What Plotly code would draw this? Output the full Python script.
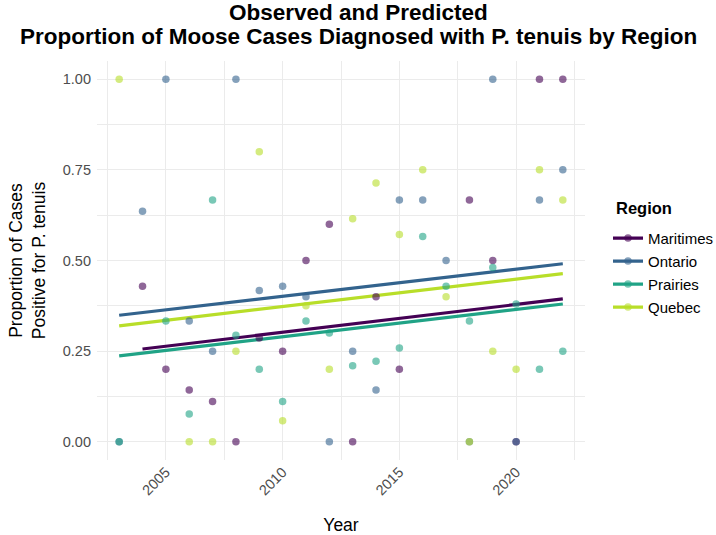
import plotly.graph_objects as go

years = list(range(2003, 2023))
regions = ["Maritimes", "Ontario", "Prairies", "Quebec"]
colors = ["#440154", "#33638D", "#20A386", "#B8DE29"]

maritimes = [None, 0.429, 0.2, 0.143, 0.111, 0, 0.286, 0.25, 0.5, 0.6,
             0, 0.4, 0.2, None, None, 0.667, 0.5, 0, 1.0, 1.0]
ontario = [0, 0.636, 1.0, 0.333, 0.25, 1.0, 0.417, 0.429, 0.4, 0,
           0.25, 0.143, 0.667, 0.667, 0.5, 0, 1.0, 0, 0.667, 0.75]
prairies = [0, None, 0.333, 0.077, 0.667, 0.294, 0.2, 0.111, 0.333, 0.3,
            0.21, 0.222, 0.259, 0.566, 0.429, 0.333, 0.481, 0.38, 0.2, 0.25]
quebec = [1.0, None, None, 0, 0, 0.25, 0.8, 0.058, 0.375, 0.2,
          0.615, 0.714, 0.572, 0.75, 0.4, 0, 0.25, 0.2, 0.75, 0.667]
observed = [maritimes, ontario, prairies, quebec]

pred_start_year = [2004, 2003, 2003, 2003]
pred_end_year = [2022, 2022, 2022, 2022]
pred_start = [0.256, 0.349, 0.237, 0.320]
pred_end = [0.394, 0.491, 0.380, 0.464]

x_ticks = [2005, 2010, 2015, 2020]
x_minor = [2002.5, 2007.5, 2012.5, 2017.5, 2022.5]
y_ticks = [0, 0.25, 0.5, 0.75, 1.0]
y_tick_labels = ["0.00", "0.25", "0.50", "0.75", "1.00"]
y_minor = [0.125, 0.375, 0.625, 0.875]

FONT = "Liberation Sans, Arial, sans-serif"
fig = go.Figure()

for i, r in enumerate(regions):
    fig.add_trace(go.Scatter(
        x=[pred_start_year[i], pred_end_year[i]], y=[pred_start[i], pred_end[i]],
        mode="lines", line=dict(color=colors[i], width=3.2),
        showlegend=False, hoverinfo="skip"))

for i, r in enumerate(regions):
    xs = [y for y, v in zip(years, observed[i]) if v is not None]
    vs = [v for v in observed[i] if v is not None]
    fig.add_trace(go.Scatter(
        x=xs, y=vs, mode="markers",
        marker=dict(color=colors[i], size=7.5, opacity=0.6, line=dict(width=0)),
        showlegend=False, name=r))

for i, r in enumerate(regions):
    fig.add_trace(go.Scatter(
        x=[None], y=[None], mode="lines+markers", name=r,
        line=dict(color=colors[i], width=3.2),
        marker=dict(color=colors[i], size=7.5, opacity=0.6),
        legendgroup=r, showlegend=True))

W, H = 716, 535
L, R, T, B = 97, 131, 61, 74.5
pw, ph = W - L - R, H - T - B


def px(xpix):
    return (xpix - L) / pw


def py(ypix):
    return (H - B - ypix) / ph


grid = "#EBEBEB"
fig.update_layout(
    width=W, height=H,
    margin=dict(l=L, r=R, t=T, b=B, autoexpand=False),
    paper_bgcolor="white", plot_bgcolor="white",
    font=dict(family=FONT, color="#000000"),
    showlegend=True,
    legend=dict(
        font=dict(size=15, family=FONT, color="black"),
        x=px(608), xanchor="left", y=py(222), yanchor="top",
        traceorder="grouped", tracegroupgap=0.5, itemwidth=30,
        bgcolor="rgba(0,0,0,0)"),
    xaxis=dict(
        range=[2002.05, 2022.95], tickmode="array", tickvals=x_ticks,
        ticktext=[str(t) for t in x_ticks], tickangle=-45,
        tickfont=dict(size=14.5, color="#4D4D4D", family=FONT),
        showgrid=True, gridcolor=grid, gridwidth=1.2, zeroline=False,
        showline=False, ticks="", automargin=False,
        minor=dict(tickmode="array", tickvals=x_minor, showgrid=True,
                   gridcolor=grid, gridwidth=0.6),
        title=dict(text="Year", font=dict(size=17.5, family=FONT, color="black"),
                   standoff=23)),
    yaxis=dict(
        range=[-0.05, 1.05], tickmode="array", tickvals=y_ticks,
        ticktext=y_tick_labels, automargin=False,
        tickfont=dict(size=14.5, color="#4D4D4D", family=FONT),
        showgrid=True, gridcolor=grid, gridwidth=1.2, zeroline=False,
        showline=False, ticks="", ticklabelstandoff=5,
        minor=dict(tickmode="array", tickvals=y_minor, showgrid=True,
                   gridcolor=grid, gridwidth=0.6),
        title=dict(text="Proportion of Cases<br>Positive for P. tenuis",
                   font=dict(size=17.5, family=FONT, color="black"),
                   standoff=12)),
    annotations=[
        dict(text="<b>Observed and Predicted</b>", xref="paper", yref="paper",
             x=px(358), y=py(12), xanchor="center",
             yanchor="middle", showarrow=False,
             font=dict(size=22.5, family=FONT, color="black")),
        dict(text="<b>Proportion of Moose Cases Diagnosed with P. tenuis by Region</b>",
             xref="paper", yref="paper",
             x=px(358), y=py(36), xanchor="center",
             yanchor="middle", showarrow=False,
             font=dict(size=22.5, family=FONT, color="black")),
        dict(text="<b>Region</b>", xref="paper", yref="paper",
             x=px(614), y=py(208), xanchor="left", yanchor="middle",
             showarrow=False,
             font=dict(size=16.5, family=FONT, color="black")),
    ],
)

fig.write_html("out.html")
